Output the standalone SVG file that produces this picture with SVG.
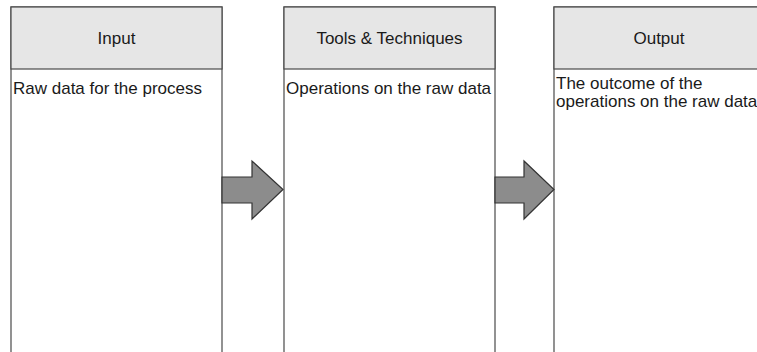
<svg xmlns="http://www.w3.org/2000/svg" width="757" height="352" viewBox="0 0 757 352">
<style>
.box{fill:#ffffff;stroke:#4a4a4a;stroke-width:1.2}
.hdr{fill:#e6e6e6;stroke:#4a4a4a;stroke-width:1.2}
.t{font-family:"Liberation Sans",Arial,sans-serif;font-size:17px;fill:#1a1a1a}
.arrow{fill:#8c8c8c;stroke:#333333;stroke-width:1.2;stroke-linejoin:miter}
</style>
<rect width="757" height="352" fill="#ffffff"/>
<g id="input">
<rect class="box" x="11" y="7" width="211" height="360"/>
<rect class="hdr" x="11" y="7" width="211" height="62"/>
<text class="t" x="116.5" y="44" text-anchor="middle">Input</text>
<text class="t" x="13" y="94">Raw data for the process</text>
</g>
<g id="tools">
<rect class="box" x="284" y="7" width="211" height="360"/>
<rect class="hdr" x="284" y="7" width="211" height="62"/>
<text class="t" x="389.5" y="44" text-anchor="middle">Tools &amp; Techniques</text>
<text class="t" x="286" y="94">Operations on the raw data</text>
</g>
<g id="output">
<rect class="box" x="554" y="7" width="230" height="360"/>
<rect class="hdr" x="554" y="7" width="230" height="62"/>
<text class="t" x="659" y="44" text-anchor="middle">Output</text>
<text class="t" x="556" y="89">The outcome of the</text>
<text class="t" x="556" y="107">operations on the raw data</text>
</g>
<g id="connectors">
<polygon class="arrow" points="222,177 252,177 252,161 283,189.5 252,219 252,203 222,203"/>
<polygon class="arrow" points="495,177 524,177 524,161 554,189.5 524,219 524,203 495,203"/>
</g>
</svg>
